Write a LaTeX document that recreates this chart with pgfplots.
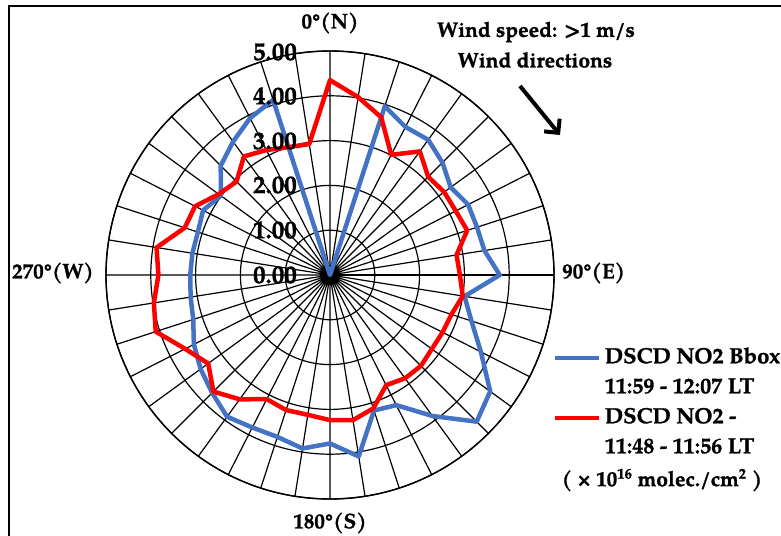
\documentclass[border=0pt]{standalone}
\usepackage{fontspec}
\setmainfont{texgyrepagella}[Extension=.otf, UprightFont=*-regular, BoldFont=*-bold, ItalicFont=*-italic, BoldItalicFont=*-bolditalic, BoldFeatures={FakeBold=1.2}]
\usepackage{pgfplots}
\pgfplotsset{compat=1.18}
\usepackage{pgfplotstable}
\usepgfplotslibrary{polar}
\usetikzlibrary{arrows.meta}
\definecolor{nblue}{RGB}{68,114,196}
\definecolor{nred}{RGB}{255,0,0}

% direction (deg, clockwise from N), DSCD NO2 values (x 10^16 molec./cm^2)
\pgfplotstableread{
dir blue red
0 0 4.35
9 0 4.02
18 3.96 3.70
27 3.71 3.01
36 3.73 3.41
45 3.55 3.10
54 3.33 3.15
63 3.46 3.15
72 3.45 3.22
81 3.49 2.86
90 3.79 2.90
99 3.04 3.00
108 3.32 2.85
117 3.78 2.82
126 4.42 2.81
135 4.63 2.87
144 3.89 2.85
153 3.26 2.76
162 3.18 3.13
171 4.10 3.28
180 3.76 3.24
189 3.92 3.16
198 3.80 3.17
207 3.82 3.11
216 3.91 3.43
225 3.72 3.68
234 3.57 3.36
243 3.41 3.63
252 3.21 4.09
261 3.15 3.98
270 3.12 3.83
279 3.11 3.92
288 3.10 3.41
297 3.18 3.38
306 3.01 3.07
315 3.45 2.95
324 3.68 3.27
333 3.93 3.13
342 4.11 3.00
351 0 2.96
}\datatab

\begin{document}
\begin{tikzpicture}
\begin{polaraxis}[
  scale only axis, width=448pt, height=448pt,
  ymin=0, ymax=5, ytick={0,1,2,3,4,5}, yticklabels={},
  xtick={0,9,...,351}, xticklabels={},
  tick style={draw=none},
  grid=major, major grid style={black, line width=1.2pt},
  axis line style={black, line width=1.4pt},
  legend style={at={(axis cs:-18.2,5.22)}, anchor=north west, draw=none, fill=none,
    font=\bfseries\fontsize{22}{26}\selectfont, cells={anchor=west},
    nodes={inner sep=0pt, text height=15pt, text depth=5pt},
    inner sep=0pt, row sep=10pt, column sep=4pt},
  legend image code/.code={\draw[#1] (0pt,0pt) -- (44pt,0pt);},
]
\addplot[nblue, line width=4.5pt, line join=round] table[x expr=90-\thisrow{dir}, y=blue] {\datatab} --cycle;
\addlegendentry{DSCD NO2 Bbox}
\addlegendimage{draw=white, draw opacity=0, line width=4.5pt}
\addlegendentry{11:59 - 12:07 LT}
\addplot[nred, line width=4.5pt, line join=round] table[x expr=90-\thisrow{dir}, y=red] {\datatab} --cycle;
\addlegendentry{DSCD NO2 -}
\addlegendimage{draw=white, draw opacity=0, line width=4.5pt}
\addlegendentry{11:48 - 11:56 LT}
\coordinate (C) at (axis cs:0,0);
\end{polaraxis}
\begin{scope}[shift={(C)}, shift={(-330pt,275pt)}, x=1pt, y=-1pt]
  \draw[line width=1.5pt] (9,560) -- (9,6) -- (800,6);
  \begin{scope}[every node/.style={font=\bfseries\fontsize{21}{25}\selectfont, inner sep=0pt}]
    \node at (330,23) {0°(N)};
    \node[anchor=west] at (562,273) {90°(E)};
    \node at (330,523) {180°(S)};
    \node[anchor=west] at (12,273) {270°(W)};
    \node at (536,32) {Wind speed: >1 m/s};
    \node at (535,60) {Wind directions};
    \node at (662,480) {( × 10\textsuperscript{16} molec./cm\textsuperscript{2} )};
  \end{scope}
  \begin{scope}[every node/.style={font=\bfseries\fontsize{25}{28}\selectfont, inner sep=0pt, anchor=east}]
    \node at (297,275) {0.00};
    \node at (297,230) {1.00};
    \node at (297,185) {2.00};
    \node at (297,141) {3.00};
    \node at (297,96) {4.00};
    \node at (297,52) {5.00};
  \end{scope}
  \draw[line width=4pt, -{Straight Barb[length=10pt, width=20pt]}] (520,86) -- (560,135);
  \pgfresetboundingbox
  \path[use as bounding box] (0,0) rectangle (781,535);
\end{scope}
\end{tikzpicture}
\end{document}
